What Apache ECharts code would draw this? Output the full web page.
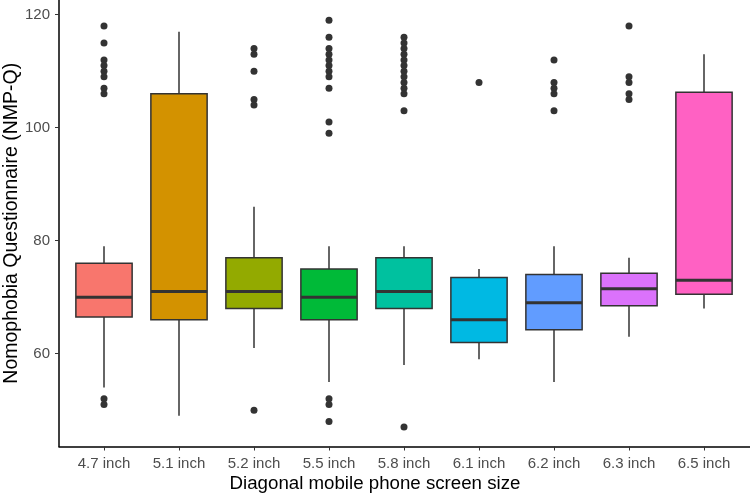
<!DOCTYPE html>
<html><head><meta charset="utf-8">
<script src="https://cdn.jsdelivr.net/npm/echarts@6/dist/echarts.min.js"></script>
<style>html,body{margin:0;padding:0;background:#fff}#c{width:750px;height:494px}</style>
</head><body><div id="c"></div>
<script>
// ---- data ----
const categories = ['4.7 inch','5.1 inch','5.2 inch','5.5 inch','5.8 inch','6.1 inch','6.2 inch','6.3 inch','6.5 inch'];
const lowerWhisker = [54, 49, 61, 55, 58, 59, 55, 63, 68];
const q1           = [66.5, 66, 68, 66, 68, 62, 64.25, 68.5, 70.5];
const median       = [70, 71, 71, 70, 71, 66, 69, 71.5, 73];
const q3           = [76, 106, 77, 75, 77, 73.5, 74, 74.25, 106.25];
const upperWhisker = [79, 117, 86, 79, 79, 75, 79, 77, 113];
const outliers47 = [118, 115, 112, 111, 110, 109, 107, 106, 52, 51];
const outliers51 = [];
const outliers52 = [114, 113, 110, 105, 104, 50];
const outliers55 = [119, 116, 114, 113, 112, 111, 110, 109, 107, 101, 99, 52, 51, 48];
const outliers58 = [116, 115, 114, 113, 112, 111, 110, 109, 108, 107, 106, 103, 47];
const outliers61 = [108];
const outliers62 = [112, 108, 107, 106, 103];
const outliers63 = [118, 109, 108, 106, 105];
const outliers65 = [];
const yTicks = [60, 80, 100, 120];
const yMin = 43.57, yMax = 122.6;
const xTitle = 'Diagonal mobile phone screen size';
const yTitle = 'Nomophobia Questionnaire (NMP-Q)';

// ---- styles ----
const palette = ['#F8766D','#D39200','#93AA00','#00BA38','#00C19F','#00B9E3','#619CFF','#DB72FB','#FF61C3'];
const FONT = "'Liberation Sans', Arial, sans-serif";

const outlierLists = [outliers47, outliers51, outliers52, outliers55, outliers58, outliers61, outliers62, outliers63, outliers65];
const boxData = categories.map((c, i) => [i, lowerWhisker[i], q1[i], median[i], q3[i], upperWhisker[i]]);
const outlierData = [];
categories.forEach((c, i) => outlierLists[i].forEach(v => outlierData.push([c, v])));

function renderItem(params, api) {
  const i = api.value(0);
  const bw = api.size([1, 0])[0] * 0.75;
  const lo = api.coord([i, api.value(1)]);
  const bot = api.coord([i, api.value(2)]);
  const med = api.coord([i, api.value(3)]);
  const top = api.coord([i, api.value(4)]);
  const hi = api.coord([i, api.value(5)]);
  const x = top[0];
  const ls = { stroke: '#333333', lineWidth: 1.5 };
  return {
    type: 'group',
    children: [
      { type: 'line', shape: { x1: x, y1: hi[1], x2: x, y2: top[1] }, style: ls },
      { type: 'line', shape: { x1: x, y1: bot[1], x2: x, y2: lo[1] }, style: ls },
      { type: 'rect', shape: { x: x - bw / 2, y: top[1], width: bw, height: bot[1] - top[1] },
        style: { fill: palette[params.dataIndex], stroke: '#333333', lineWidth: 1.5 } },
      { type: 'line', shape: { x1: x - bw / 2, y1: med[1], x2: x + bw / 2, y2: med[1] },
        style: { stroke: '#333333', lineWidth: 3 } }
    ]
  };
}

const chart = echarts.init(document.getElementById('c'), null, { renderer: 'canvas' });
chart.setOption({
  animation: false,
  textStyle: { fontFamily: FONT },
  title: { text: xTitle, left: 'center', top: 474, padding: 0,
    textStyle: { color: '#000', fontSize: 18.7, fontWeight: 'normal', fontFamily: FONT } },
  grid: [
    { left: 59, right: 0, top: 0, bottom: 47.5, containLabel: false, outerBoundsMode: 'none' },
    { left: 66.5, right: 8.5, top: 0, bottom: 47.5, containLabel: false, outerBoundsMode: 'none' }
  ],
  xAxis: [
    { gridIndex: 0, type: 'value', min: 0, max: 1,
      axisLine: { show: true, lineStyle: { color: '#000', width: 1.5 } },
      axisTick: { show: false }, axisLabel: { show: false }, splitLine: { show: false } },
    { gridIndex: 1, type: 'category', data: categories,
      axisLine: { show: false },
      axisTick: { show: true, alignWithLabel: true, length: 4, lineStyle: { color: '#333333', width: 1 } },
      axisLabel: { color: '#4D4D4D', fontSize: 15, margin: 10, fontFamily: FONT },
      splitLine: { show: false } }
  ],
  yAxis: [
    { gridIndex: 0, type: 'value', min: yMin, max: yMax,
      axisLine: { show: true, lineStyle: { color: '#000', width: 1.5 } },
      axisTick: { show: true, length: 4, customValues: yTicks, lineStyle: { color: '#333333', width: 1 } },
      axisLabel: { customValues: yTicks, color: '#4D4D4D', fontSize: 15, margin: 9, fontFamily: FONT },
      splitLine: { show: false },
      name: yTitle, nameLocation: 'middle', nameGap: 37, nameRotate: 90, nameMoveOverlap: false,
      nameTextStyle: { color: '#000', fontSize: 19.5, fontFamily: FONT } },
    { gridIndex: 1, type: 'value', min: yMin, max: yMax, show: false, splitLine: { show: false } }
  ],
  series: [
    { type: 'custom', xAxisIndex: 1, yAxisIndex: 1, data: boxData, renderItem: renderItem,
      encode: { x: 0, y: [1, 2, 3, 4, 5] } },
    { type: 'scatter', xAxisIndex: 1, yAxisIndex: 1, data: outlierData, symbolSize: 7,
      itemStyle: { color: '#333333', opacity: 1 } }
  ]
});
</script>
</body></html>
